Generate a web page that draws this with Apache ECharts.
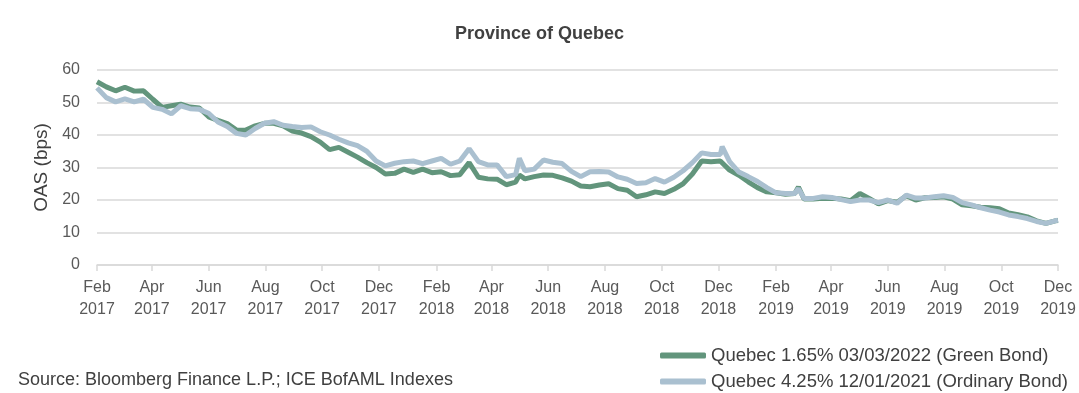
<!DOCTYPE html>
<html>
<head>
<meta charset="utf-8">
<script src="https://cdn.jsdelivr.net/npm/echarts@6/dist/echarts.min.js"></script>
<style>html,body{margin:0;padding:0;background:#fff}#c{width:1079px;height:393px}</style>
</head>
<body>
<div id="c"></div>
<script>
const dates = ['2017-02-01','2017-02-11','2017-02-21','2017-03-03','2017-03-13','2017-03-23','2017-04-02','2017-04-12','2017-04-22','2017-05-02','2017-05-12','2017-05-22','2017-06-01','2017-06-11','2017-06-21','2017-07-01','2017-07-11','2017-07-21','2017-07-31','2017-08-10','2017-08-20','2017-08-30','2017-09-09','2017-09-19','2017-09-29','2017-10-09','2017-10-19','2017-10-29','2017-11-08','2017-11-18','2017-11-28','2017-12-08','2017-12-18','2017-12-28','2018-01-07','2018-01-17','2018-01-27','2018-02-06','2018-02-16','2018-02-26','2018-03-08','2018-03-18','2018-03-28','2018-04-07','2018-04-17','2018-04-27','2018-05-01','2018-05-07','2018-05-17','2018-05-27','2018-06-06','2018-06-16','2018-06-26','2018-07-06','2018-07-16','2018-07-26','2018-08-05','2018-08-15','2018-08-25','2018-09-04','2018-09-14','2018-09-24','2018-10-04','2018-10-14','2018-10-24','2018-11-03','2018-11-13','2018-11-23','2018-12-03','2018-12-05','2018-12-13','2018-12-23','2019-01-02','2019-01-12','2019-01-22','2019-02-01','2019-02-11','2019-02-21','2019-02-25','2019-03-03','2019-03-13','2019-03-23','2019-04-02','2019-04-12','2019-04-22','2019-05-02','2019-05-12','2019-05-22','2019-06-01','2019-06-11','2019-06-21','2019-07-01','2019-07-11','2019-07-21','2019-07-31','2019-08-10','2019-08-20','2019-08-30','2019-09-09','2019-09-19','2019-09-29','2019-10-09','2019-10-19','2019-10-29','2019-11-08','2019-11-18','2019-11-28','2019-12-01'];

const greenBond = [56.4,54.8,53.6,54.7,53.5,53.6,51.0,48.5,49.0,49.5,48.6,48.3,45.6,44.5,43.5,41.5,41.5,42.8,43.6,43.6,42.8,41.2,40.6,39.5,37.8,35.5,36.2,34.7,33.2,31.5,30.0,28.0,28.2,29.5,28.5,29.5,28.4,28.7,27.5,27.8,31.5,27.0,26.5,26.4,24.7,25.5,27.7,26.5,27.2,27.7,27.6,26.8,25.8,24.3,24.1,24.6,25.0,23.5,23.0,21.0,21.6,22.5,22.0,23.3,25.0,28.0,32.0,31.8,32.0,32.3,29.2,27.6,25.6,23.8,22.5,22.2,21.8,22.0,24.0,20.3,20.3,20.5,20.5,20.3,19.8,22.0,20.5,18.8,19.8,19.3,21.3,20.0,20.7,20.8,21.0,20.3,18.5,18.2,17.8,17.6,17.3,16.0,15.5,14.8,13.6,12.8,13.6,13.7];

const ordinaryBond = [54.5,51.5,50.2,51.1,50.2,51.0,48.5,47.9,46.5,49.0,48.1,47.9,46.7,44.0,42.6,40.5,40.0,42.0,43.6,44.1,43.0,42.6,42.3,42.5,41.0,40.0,38.7,37.6,36.7,35.0,32.0,30.5,31.3,31.8,32.0,31.2,32.0,32.8,31.0,32.0,35.8,31.8,30.8,30.8,27.2,27.8,32.8,29.0,29.5,32.3,31.6,31.2,28.8,27.2,28.7,28.8,28.6,27.1,26.4,25.1,25.3,26.6,25.5,27.0,29.0,31.5,34.5,34.0,34.0,36.4,31.8,28.6,27.2,25.7,23.8,22.2,22.0,22.0,23.5,20.5,20.5,21.0,20.8,20.1,19.5,20.0,20.0,19.2,20.0,19.0,21.5,20.6,20.6,21.0,21.3,20.8,19.2,18.5,17.6,16.9,16.3,15.4,14.9,14.3,13.4,12.8,13.6,13.8];

const tickDates = ['2017-02-01','2017-04-01','2017-06-01','2017-08-01','2017-10-01','2017-12-01','2018-02-01','2018-04-01','2018-06-01','2018-08-01','2018-10-01','2018-12-01','2019-02-01','2019-04-01','2019-06-01','2019-08-01','2019-10-01','2019-12-01'];
const tickLabels = ['Feb\n2017','Apr\n2017','Jun\n2017','Aug\n2017','Oct\n2017','Dec\n2017','Feb\n2018','Apr\n2018','Jun\n2018','Aug\n2018','Oct\n2018','Dec\n2018','Feb\n2019','Apr\n2019','Jun\n2019','Aug\n2019','Oct\n2019','Dec\n2019'];

const seriesNames = ['Quebec 1.65% 03/03/2022 (Green Bond)','Quebec 4.25% 12/01/2021 (Ordinary Bond)'];
const colors = ['#62957c','#aac0d0'];

function toTs(s){ const p = s.split('-'); return Date.UTC(+p[0], +p[1]-1, +p[2]); }
const tickTs = tickDates.map(toTs);

const chart = echarts.init(document.getElementById('c'));
const font = 'Liberation Sans';
const legendBase = {
  orient: 'vertical', left: 660, padding: 0,
  itemWidth: 46, itemHeight: 6, icon: 'roundRect',
  textStyle: { fontFamily: font, fontSize: 18.5, color: '#404040' }
};
chart.setOption({
  animation: false,
  title: {
    text: 'Province of Quebec', left: 'center', top: 20,
    textStyle: { fontFamily: font, fontSize: 18, fontWeight: 'bold', color: '#404040' }
  },
  grid: { left: 97, right: 21, top: 70, bottom: 128 },
  legend: [
    Object.assign({}, legendBase, { top: 346, data: [seriesNames[0]] }),
    Object.assign({}, legendBase, { top: 372, data: [seriesNames[1]] })
  ],
  graphic: [{
    type: 'text', left: 18, top: 371,
    style: { text: 'Source: Bloomberg Finance L.P.; ICE BofAML Indexes', font: '18px ' + font, fill: '#404040' }
  }],
  xAxis: {
    type: 'value',
    min: tickTs[0], max: tickTs[tickTs.length - 1],
    axisLine: { lineStyle: { color: '#d9d9d9', width: 1.5 } },
    axisTick: { show: true, length: 6, customValues: tickTs, lineStyle: { color: '#d9d9d9', width: 1.5 } },
    axisLabel: {
      customValues: tickTs,
      fontFamily: font, fontSize: 16, color: '#595959', lineHeight: 22, margin: 12,
      formatter: function (v) { const i = tickTs.indexOf(v); return i >= 0 ? tickLabels[i] : ''; }
    },
    splitLine: { show: false }
  },
  yAxis: {
    type: 'value', min: 0, max: 60, interval: 10,
    name: 'OAS (bps)', nameLocation: 'middle', nameRotate: 90, nameGap: 46,
    nameTextStyle: { fontFamily: font, fontSize: 19, color: '#404040' },
    axisLine: { show: false }, axisTick: { show: false },
    axisLabel: { fontFamily: font, fontSize: 16, color: '#595959', margin: 17 },
    splitLine: { lineStyle: { color: '#d9d9d9', width: 1.5 } }
  },
  series: [
    { name: seriesNames[0], type: 'line', showSymbol: false, color: colors[0],
      lineStyle: { width: 5, color: colors[0] },
      data: dates.map((d, i) => [toTs(d), greenBond[i]]) },
    { name: seriesNames[1], type: 'line', showSymbol: false, color: colors[1],
      lineStyle: { width: 5, color: colors[1] },
      data: dates.map((d, i) => [toTs(d), ordinaryBond[i]]) }
  ]
});
</script>
</body>
</html>
